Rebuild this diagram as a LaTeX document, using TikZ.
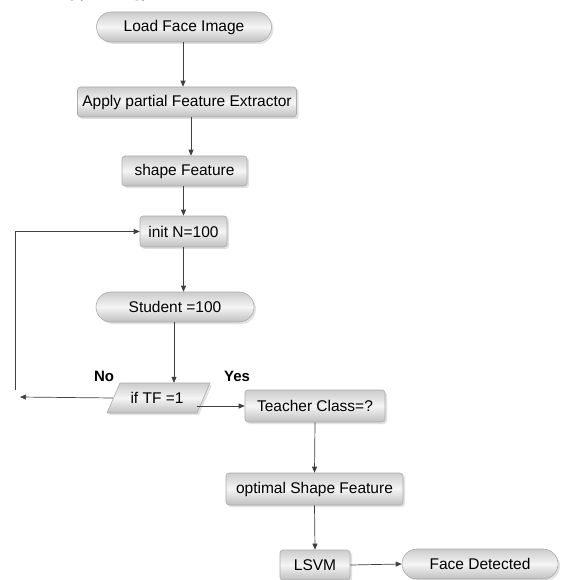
\documentclass[tikz,border=0pt]{standalone}
\usepackage{fontspec}
\setmainfont{Liberation Serif}
\setsansfont{Liberation Sans}
\usetikzlibrary{arrows.meta,shadows}
\begin{document}
\begin{tikzpicture}[x=1pt,y=-1pt,
  look/.style={draw=gray!65, line width=0.6pt,
    top color=gray!40, bottom color=gray!50, middle color=gray!8,
    drop shadow={shadow xshift=2pt, shadow yshift=-2pt, fill=gray!45}},
  txt/.style={font=\sffamily\fontsize{15.5}{18}\selectfont, inner sep=0pt},
  base/.style={look, txt, minimum height=30pt},
  pill/.style={base, rounded corners=15pt},
  boxr/.style={base, rounded corners=3pt},
  arr/.style={-{Triangle[length=6pt,width=5pt]}, line width=0.7pt, draw=black!75},
  lbl/.style={font=\sffamily\bfseries\fontsize{15}{18}\selectfont}
]
\useasboundingbox (0,0) rectangle (560,580);
\fill[white] (0,0) rectangle (560,580);
\node[font=\bfseries\fontsize{26}{30}\selectfont, anchor=base west] (head) at (49,1) {10. Exit.};

\node[pill, minimum width=175pt] (load) at (184,27) {Load Face Image};
\node[boxr, minimum width=219pt] (apply) at (187,102) {Apply partial Feature Extractor};
\node[boxr, minimum width=125pt] (shape) at (184.5,171) {shape Feature};
\node[boxr, minimum width=87pt, minimum height=31pt] (init) at (183.5,231.5) {init N=100};
\node[pill, minimum width=158pt] (student) at (175,307) {Student =100};
\path[look] (107,413) -- (197,413) -- (210,383) -- (120,383) -- cycle;
\node[txt, minimum width=80pt, minimum height=30pt] (iftf) at (157,398) {if TF =1};
\node[boxr, minimum width=140pt, minimum height=32pt] (teacher) at (315,406) {Teacher Class=?};
\node[boxr, minimum width=177pt, minimum height=32pt] (optimal) at (314.5,489) {optimal Shape Feature};
\node[boxr, minimum width=70pt] (lsvm) at (315,565) {LSVM};
\node[pill, minimum width=156pt] (face) at (480,564) {Face Detected};

\node[lbl] (no) at (104,376) {No};
\node[lbl] (yes) at (237,376) {Yes};

\coordinate (noend) at (20,397);
\coordinate (loop) at (15,390);
\coordinate (yesstart) at (197,406);
\coordinate (nostart) at (113,398);

\draw[arr] (load.south -| 183,0) -- (apply.north -| 183,0);
\draw[arr] (apply.south -| 191,0) -- (shape.north -| 191,0);
\draw[arr] (shape.south -| init) -- (init.north);
\draw[arr] (init.south) -- (init.south |- student.north);
\draw[arr] (student.south -| 174,0) -- (iftf.north -| 174,0);
\draw[arr] (yesstart) -- (yesstart -| teacher.west);
\draw[arr] (nostart) -- (noend);
\draw[arr] (loop) |- (init.west);
\draw[arr] (teacher.south) -- (optimal.north);
\draw[arr] (optimal.south) -- (lsvm.north);
\draw[arr] (lsvm.east) -- (face.west);
\end{tikzpicture}
\end{document}
